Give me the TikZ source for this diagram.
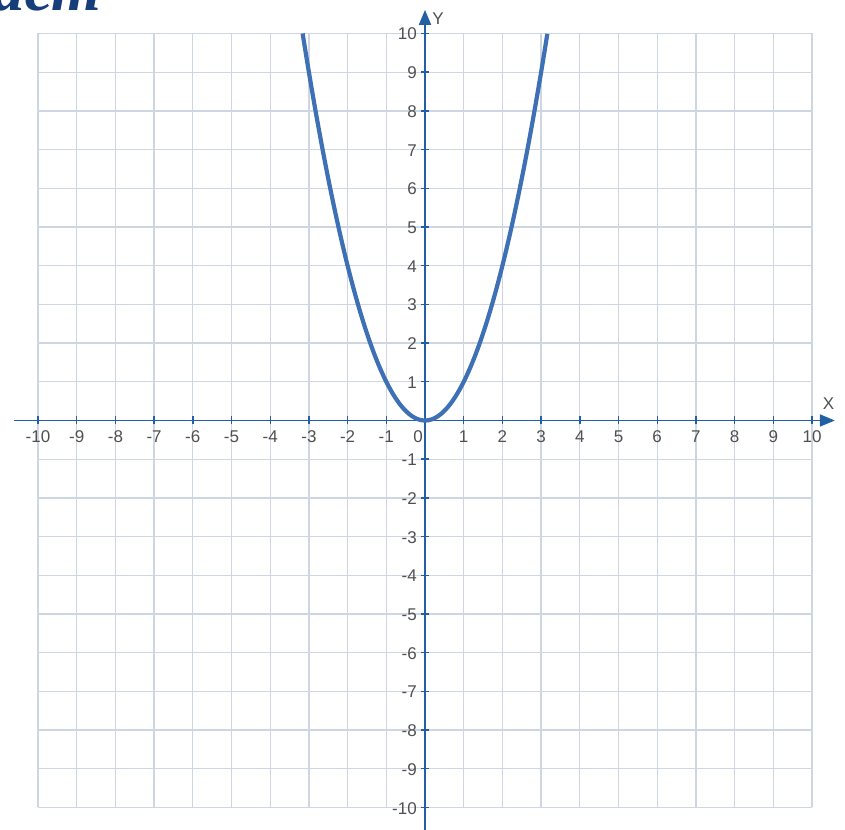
\documentclass[tikz,border=0pt]{standalone}
\usepackage{fontspec}
\setmainfont{Liberation Sans}
\newfontfamily\ttlfont{Liberation Serif}
\usetikzlibrary{arrows.meta}
\definecolor{gridc}{RGB}{206,214,226}
\definecolor{axisc}{RGB}{35,95,165}
\definecolor{curvec}{RGB}{62,112,182}
\definecolor{labc}{RGB}{80,80,80}
\definecolor{ttlc}{RGB}{22,62,122}
\begin{document}
\begin{tikzpicture}[x=1pt,y=1pt,
  gridline/.style={draw=gridc,line width=1.3pt},
  axisline/.style={draw=axisc,line width=1.8pt,-{Triangle[length=15pt,width=12pt]}},
  tickmark/.style={draw=axisc,line width=1.4pt},
  numlab/.style={font=\fontsize{17}{17}\selectfont,text=labc,inner sep=0pt},
  xlab/.style={numlab,anchor=base},
  ylab/.style={numlab,anchor=base east},
  curveline/.style={draw=curvec,line width=4.2pt,line join=round}]
\useasboundingbox (0,0) rectangle (845,829);
\fill[white] (0,0) rectangle (845,829);
\node[font=\ttlfont\bfseries\itshape\fontsize{64}{64}\selectfont, text=ttlc, anchor=base west, inner sep=0pt] (title) at (-8,818) {ает};
\begin{scope}[shift={(425,408.5)},x=38.7pt,y=38.7pt]
  \draw[gridline,step=1] (-10,-10) grid (10,10);
  \coordinate (xs) at (-10.62,0);
  \coordinate (xe) at (10.59,0);
  \coordinate (ys) at (0,-10.7);
  \coordinate (ye) at (0,10.61);
  \draw[axisline] (xs) -- (xe);
  \draw[axisline] (ys) -- (ye);
  \foreach \i in {-10,...,-1,1,2,...,10} {
    \draw[tickmark] ([yshift=-4pt]\i,0) -- ([yshift=4pt]\i,0);
    \draw[tickmark] ([xshift=-4pt]0,\i) -- ([xshift=4pt]0,\i);
    \node[xlab] (xl\i) at ([yshift=-22.5pt]\i,0) {\i};
    \node[ylab] (yl\i) at ([xshift=-8pt,yshift=-6.5pt]0,\i) {\i};
  }
  \node[xlab] (zero) at (-7pt,-22.5pt) {0};
  \node[numlab] (xname) at (403.5pt,16.5pt) {X};
  \node[numlab] (yname) at (13pt,402pt) {Y};
  \draw[curveline] plot[domain=-3.1623:3.1623,samples=201,smooth] (\x,{\x*\x});
\end{scope}
\end{tikzpicture}
\end{document}
